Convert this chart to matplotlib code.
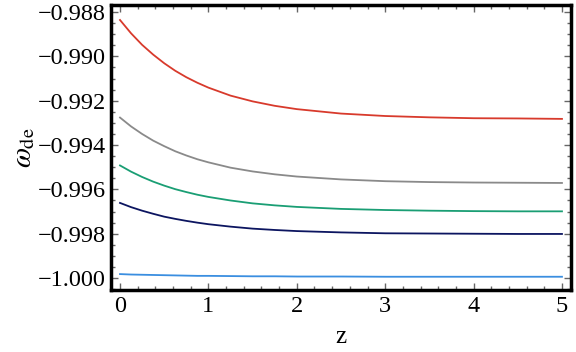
import matplotlib
matplotlib.use("Agg")
import matplotlib.pyplot as plt
from matplotlib.ticker import MultipleLocator, FuncFormatter

z = [0, 0.125, 0.25, 0.375, 0.5, 0.625, 0.75, 0.875, 1, 1.25, 1.5, 1.75, 2,
     2.5, 3, 3.5, 4, 4.5, 5]
w_red = [-0.98836, -0.98896, -0.98948, -0.98992, -0.99031, -0.99065, -0.99094, -0.99119,
         -0.99141, -0.99177, -0.99203, -0.99223, -0.99238,
         -0.99258, -0.99269, -0.99275, -0.99279, -0.99280, -0.99282]
w_gray = [-0.99276, -0.99316, -0.99350, -0.99380, -0.99405, -0.99428, -0.99447, -0.99464,
          -0.99478, -0.99502, -0.99519, -0.99532, -0.99542,
          -0.99555, -0.99563, -0.99567, -0.99569, -0.99570, -0.99571]
w_green = [-0.99492, -0.99520, -0.99544, -0.99565, -0.99583, -0.99599, -0.99612, -0.99624,
           -0.99634, -0.99650, -0.99663, -0.99672, -0.99679,
           -0.99688, -0.99693, -0.99696, -0.99698, -0.99699, -0.99699]
w_navy = [-0.99661, -0.99680, -0.99696, -0.99710, -0.99723, -0.99733, -0.99742, -0.99750,
          -0.99757, -0.99768, -0.99777, -0.99783, -0.99788,
          -0.99794, -0.99798, -0.99799, -0.99800, -0.99801, -0.99801]
w_blue = [-0.99982, -0.99984, -0.99985, -0.99986, -0.99987, -0.99988, -0.99989, -0.99990,
          -0.99990, -0.99991, -0.99992, -0.99992, -0.99993,
          -0.99993, -0.99994, -0.99994, -0.99994, -0.99994, -0.99994]

series = [w_red, w_gray, w_green, w_navy, w_blue]
colors = ["#d83a2c", "#8a8a8a", "#1a9e74", "#0c1560", "#3a8ee0"]

plt.rcParams['font.family'] = ['Liberation Serif', 'DejaVu Serif']
plt.rcParams['mathtext.fontset'] = 'stix'

fig = plt.figure(figsize=(5.76, 3.52), dpi=100)
ax = fig.add_axes([0.193, 0.176, 0.798, 0.810])

for s, c in zip(series, colors):
    ax.plot(z, s, color=c, lw=1.3)

ax.set_xlim(-0.1, 5.1)
ax.set_ylim(-1.00054, -0.98768)
ax.xaxis.set_major_locator(MultipleLocator(1))
ax.xaxis.set_minor_locator(MultipleLocator(0.2))
ax.yaxis.set_major_locator(MultipleLocator(0.002))
ax.yaxis.set_minor_locator(MultipleLocator(0.0005))
ax.yaxis.set_major_formatter(FuncFormatter(lambda v, p: ('%.3f' % v).replace('-', '\u2212')))
ax.tick_params(which='both', direction='in', top=True, right=True, color='#666666',
               labelsize=17.5, pad=4)
ax.tick_params(which='major', length=5, width=1)
ax.tick_params(which='minor', length=3, width=1)
for sp in ax.spines.values():
    sp.set_linewidth(2.5)

ax.set_xlabel('z', fontsize=18, labelpad=7)
ax.set_ylabel(r'$\omega_{\rm de}$', fontsize=21, labelpad=0)

fig.savefig('out.png', dpi=100)
